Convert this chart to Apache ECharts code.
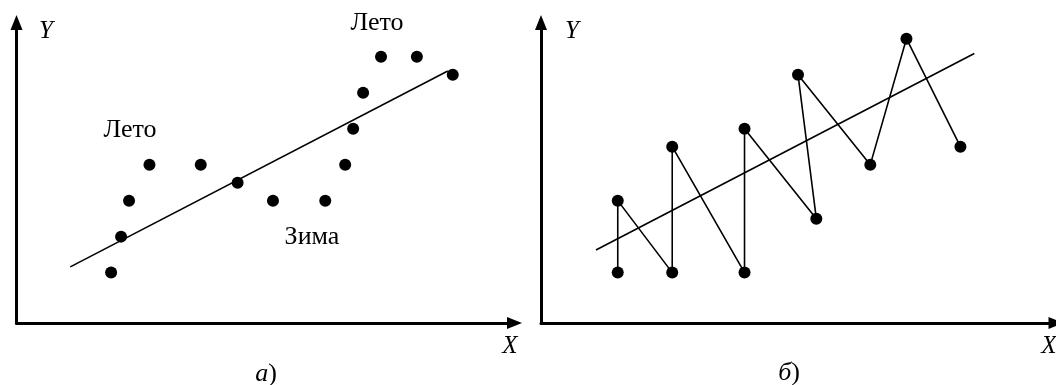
<!DOCTYPE html>
<html>
<head>
<meta charset="utf-8">
<script src="https://cdn.jsdelivr.net/npm/echarts@6/dist/echarts.min.js"></script>
<style>
  html, body { margin: 0; padding: 0; background: #fff; }
  #box { width: 1056px; height: 385px; }
</style>
</head>
<body>
<div id="box"></div>
<script>
// панель а): сезонные точки и линия тренда
var leftX = [19, 21, 22.6, 26.7, 37, 44.4, 51.5, 62, 66, 67.6, 69.6, 73.2, 80.4, 87.6];
var leftY = [1.4, 2.4, 3.4, 4.4, 4.4, 3.9, 3.4, 3.4, 4.4, 5.4, 6.4, 7.4, 7.4, 6.9];
var leftTrendX = [10.8, 86.6];
var leftTrendY = [1.56, 7.0];

// панель б): ломаная и линия тренда
var rightX = [15.5, 15.5, 26.5, 26.5, 41.1, 41.1, 55.6, 51.9, 66.5, 73.8, 84.7];
var rightY = [1.4, 3.4, 1.4, 4.9, 1.4, 5.4, 2.9, 6.9, 4.4, 7.9, 4.9];
var rightTrendX = [11.1, 87.5];
var rightTrendY = [2.03, 7.49];

var labels = ['Лето', 'Лето', 'Зима'];
var axisNames = ['X', 'Y'];

function pairs(xs, ys) {
  return xs.map(function (x, i) { return [x, ys[i]]; });
}

var serif = '"Liberation Serif", "DejaVu Serif", serif';

var myChart = echarts.init(document.getElementById('box'));

function axisLine(w) {
  return {
    show: true,
    onZero: false,
    symbol: ['none', 'triangle'],
    symbolSize: [12, 15],
    lineStyle: { color: '#000', width: w }
  };
}

function xAx(idx, max) {
  return {
    gridIndex: idx, type: 'value', min: 0, max: max,
    axisLine: axisLine(3), axisTick: { show: false },
    axisLabel: { show: false }, splitLine: { show: false }
  };
}
function yAx(idx) {
  return {
    gridIndex: idx, type: 'value', min: 0, max: 8.35,
    axisLine: axisLine(3), axisTick: { show: false },
    axisLabel: { show: false }, splitLine: { show: false }
  };
}

function txt(x, y, s, italic, size) {
  return {
    type: 'text', x: x, y: y,
    style: {
      text: s, fill: '#000', font: (italic ? 'italic ' : '') + size + 'px ' + serif,
      align: 'center', verticalAlign: 'middle'
    }
  };
}

function capt(x, y, letter) {
  return {
    type: 'text', x: x, y: y,
    style: {
      text: '{i|' + letter + '}{n|)}', fill: '#000',
      align: 'center', verticalAlign: 'middle',
      rich: {
        i: { fontStyle: 'italic', fontSize: 26, fontFamily: serif },
        n: { fontSize: 26, fontFamily: serif }
      }
    }
  };
}

var option = {
  animation: false,
  backgroundColor: '#fff',
  grid: [
    { left: 16.5, top: 22.5, width: 498, height: 300.5 },
    { left: 541, top: 22.5, width: 518, height: 300.5 }
  ],
  xAxis: [xAx(0, 100), xAx(1, 104)],
  yAxis: [yAx(0), yAx(1)],
  graphic: [
    txt(46, 31, axisNames[1], true, 25),
    txt(510, 346, axisNames[0], true, 25),
    txt(572, 31, axisNames[1], true, 25),
    txt(1049, 346, axisNames[0], true, 25),
    txt(130, 130, labels[0], false, 26),
    txt(377, 23, labels[1], false, 26),
    txt(312, 237, labels[2], false, 26),
    capt(266, 374, 'а'),
    capt(789, 373, 'б')
  ],
  series: [
    {
      type: 'line', xAxisIndex: 0, yAxisIndex: 0,
      data: pairs(leftTrendX, leftTrendY), showSymbol: false, symbol: 'none',
      lineStyle: { color: '#000', width: 1.6 }
    },
    {
      type: 'scatter', xAxisIndex: 0, yAxisIndex: 0,
      data: pairs(leftX, leftY), symbol: 'circle', symbolSize: 12,
      itemStyle: { color: '#000', opacity: 1 }
    },
    {
      type: 'line', xAxisIndex: 1, yAxisIndex: 1,
      data: pairs(rightTrendX, rightTrendY), showSymbol: false, symbol: 'none',
      lineStyle: { color: '#000', width: 1.6 }
    },
    {
      type: 'line', xAxisIndex: 1, yAxisIndex: 1,
      data: pairs(rightX, rightY), symbol: 'circle', symbolSize: 12,
      lineStyle: { color: '#000', width: 1.6 },
      itemStyle: { color: '#000', opacity: 1 }
    }
  ]
};

myChart.setOption(option);
</script>
</body>
</html>
